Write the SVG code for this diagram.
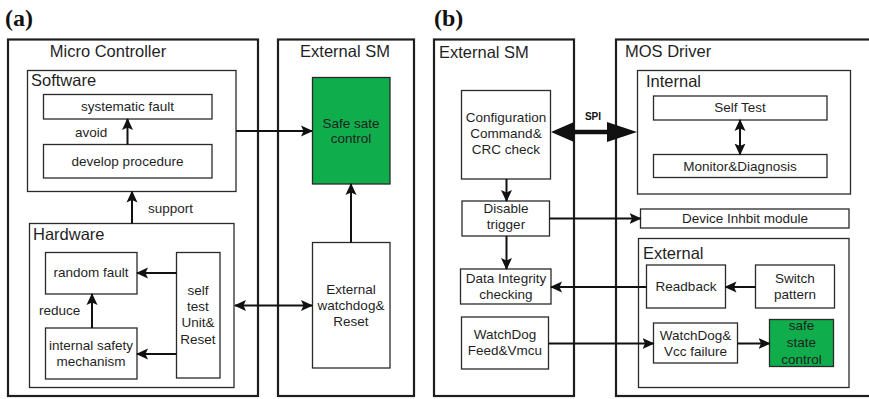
<svg xmlns="http://www.w3.org/2000/svg" width="869" height="399" viewBox="0 0 869 399">
  <defs>
    <style>
      .outer { fill: #fff; stroke: #1e1e1e; stroke-width: 2.2; }
      .box { fill: #fff; stroke: #2a2a2a; stroke-width: 1.3; }
      .green { fill: #10ad4c; stroke: #2a2a2a; stroke-width: 1.3; }
      .t { font-family: "Liberation Sans", Arial, sans-serif; font-size: 13.5px; fill: #1f1f1f; text-anchor: middle; }
      .tl { font-family: "Liberation Sans", Arial, sans-serif; font-size: 13.5px; fill: #1f1f1f; }
      .h { font-family: "Liberation Sans", Arial, sans-serif; font-size: 16.5px; fill: #1f1f1f; }
      .hc { font-family: "Liberation Sans", Arial, sans-serif; font-size: 16.5px; fill: #1f1f1f; text-anchor: middle; }
      .panel { font-family: "Liberation Serif", "Times New Roman", serif; font-size: 24px; font-weight: bold; fill: #111; }
      .spi { font-family: "Liberation Sans", Arial, sans-serif; font-size: 10px; font-weight: bold; fill: #111; text-anchor: middle; }
      .wire { fill: none; stroke: #111; stroke-width: 2; }
      .wire-end { marker-end: url(#head); }
      .wire-both { marker-start: url(#head); marker-end: url(#head); }
    </style>
    <marker id="head" viewBox="0 0 12 12" markerUnits="userSpaceOnUse" markerWidth="12" markerHeight="12" refX="11" refY="6" orient="auto-start-reverse">
      <path d="M0,0.5 L12,6 L0,11.5 L2.5,6 z" fill="#111"/>
    </marker>
  </defs>

  <rect width="869" height="399" fill="#fff"/>

  <!-- panel (a) -->
  <text class="panel" x="5" y="26">(a)</text>

  <g id="micro-controller">
    <rect class="outer" x="8" y="39.5" width="250" height="356.5"/>
    <text class="hc" x="108" y="57">Micro Controller</text>
  </g>

  <g id="external-sm-a">
    <rect class="outer" x="278" y="39.5" width="136" height="356.5"/>
    <text class="hc" x="345" y="57">External SM</text>
  </g>

  <g id="software">
    <rect class="box" x="27.5" y="70.5" width="208.5" height="121"/>
    <text class="h" x="31" y="86">Software</text>
  </g>

  <g id="systematic-fault">
    <rect class="box" x="43.5" y="94.5" width="168.5" height="24.5"/>
    <text class="t" x="127.5" y="111">systematic fault</text>
  </g>

  <g id="develop-procedure">
    <rect class="box" x="43.5" y="144.5" width="168.5" height="33.5"/>
    <text class="t" x="127.5" y="166">develop procedure</text>
  </g>

  <g id="safe-sate-control">
    <rect class="green" x="312.5" y="77.5" width="77.5" height="106.5"/>
    <text class="t" x="351" y="127.5">Safe sate</text>
    <text class="t" x="351" y="143">control</text>
  </g>

  <g id="hardware">
    <rect class="box" x="29.5" y="223.5" width="204.5" height="164"/>
    <text class="h" x="33" y="240">Hardware</text>
  </g>

  <g id="random-fault">
    <rect class="box" x="45.5" y="252.5" width="91.5" height="41.5"/>
    <text class="t" x="91" y="277">random fault</text>
  </g>

  <g id="internal-safety-mechanism">
    <rect class="box" x="45.5" y="328" width="91.5" height="51"/>
    <text class="t" x="91" y="350">internal safety</text>
    <text class="t" x="91" y="366">mechanism</text>
  </g>

  <g id="self-test-unit">
    <rect class="box" x="176.5" y="252.5" width="43.5" height="125.5"/>
    <text class="t" x="198" y="294.5">self</text>
    <text class="t" x="198" y="311">test</text>
    <text class="t" x="198" y="327">Unit&amp;</text>
    <text class="t" x="198" y="343.5">Reset</text>
  </g>

  <g id="external-watchdog">
    <rect class="box" x="312.5" y="242.5" width="77.5" height="125.5"/>
    <text class="t" x="351" y="293.5">External</text>
    <text class="t" x="351" y="309.5">watchdog&amp;</text>
    <text class="t" x="351" y="325.5">Reset</text>
  </g>

  <!-- panel (b) -->
  <text class="panel" x="434" y="26">(b)</text>

  <g id="external-sm-b">
    <rect class="outer" x="434" y="39.5" width="140" height="356.5"/>
    <text class="h" x="439" y="57.5">External SM</text>
  </g>

  <g id="mos-driver">
    <rect class="outer" x="616" y="39.5" width="262" height="356.5"/>
    <text class="h" x="625" y="57">MOS Driver</text>
  </g>

  <g id="internal">
    <rect class="box" x="637.5" y="70.5" width="213" height="123.5"/>
    <text class="h" x="646" y="87">Internal</text>
  </g>

  <g id="self-test">
    <rect class="box" x="653.5" y="96" width="173.5" height="24"/>
    <text class="t" x="740" y="111.5">Self Test</text>
  </g>

  <g id="monitor-diagnosis">
    <rect class="box" x="653.5" y="154.5" width="173.5" height="23"/>
    <text class="t" x="740" y="170.5">Monitor&amp;Diagnosis</text>
  </g>

  <g id="configuration">
    <rect class="box" x="461.5" y="90.5" width="89" height="88.5"/>
    <text class="t" x="506" y="121.5">Configuration</text>
    <text class="t" x="506" y="137.5">Command&amp;</text>
    <text class="t" x="506" y="153.5">CRC check</text>
  </g>

  <g id="disable-trigger">
    <rect class="box" x="462" y="201" width="87.5" height="35"/>
    <text class="t" x="506" y="212.5">Disable</text>
    <text class="t" x="506" y="229">trigger</text>
  </g>

  <g id="device-inhibit">
    <rect class="box" x="640.5" y="209" width="208.5" height="19"/>
    <text class="t" x="745" y="223">Device Inhbit module</text>
  </g>

  <g id="data-integrity">
    <rect class="box" x="460.5" y="269" width="90.5" height="35"/>
    <text class="t" x="506" y="282.5">Data Integrity</text>
    <text class="t" x="506" y="299">checking</text>
  </g>

  <g id="watchdog-feed">
    <rect class="box" x="461.5" y="317" width="87" height="52"/>
    <text class="t" x="505" y="339">WatchDog</text>
    <text class="t" x="505" y="355">Feed&amp;Vmcu</text>
  </g>

  <g id="external">
    <rect class="box" x="638.5" y="238.5" width="210.5" height="149"/>
    <text class="h" x="643" y="259">External</text>
  </g>

  <g id="readback">
    <rect class="box" x="646.5" y="265" width="79" height="43"/>
    <text class="t" x="686" y="291">Readback</text>
  </g>

  <g id="switch-pattern">
    <rect class="box" x="755.5" y="265" width="79" height="43"/>
    <text class="t" x="795" y="283">Switch</text>
    <text class="t" x="795" y="299">pattern</text>
  </g>

  <g id="watchdog-vcc">
    <rect class="box" x="653.5" y="323" width="84" height="40"/>
    <text class="t" x="695.5" y="339.5">WatchDog&amp;</text>
    <text class="t" x="695.5" y="355.5">Vcc failure</text>
  </g>

  <g id="safe-state-control">
    <rect class="green" x="769.5" y="319.5" width="64" height="47"/>
    <text class="t" x="801.5" y="330">safe</text>
    <text class="t" x="801.5" y="346.5">state</text>
    <text class="t" x="801.5" y="363.5">control</text>
  </g>

  <g id="connectors">
    <!-- (a) -->
    <line class="wire wire-end" x1="127.5" y1="144.5" x2="127.5" y2="119"/>
    <text class="tl" x="75" y="137">avoid</text>
    <line class="wire wire-end" x1="236" y1="131" x2="312" y2="131"/>
    <line class="wire wire-end" x1="132" y1="223.5" x2="132" y2="191.5"/>
    <text class="tl" x="148" y="213">support</text>
    <line class="wire wire-end" x1="176.5" y1="273" x2="137" y2="273"/>
    <line class="wire wire-end" x1="176.5" y1="354" x2="137" y2="354"/>
    <line class="wire wire-end" x1="92" y1="328" x2="92" y2="294"/>
    <text class="tl" x="39" y="315">reduce</text>
    <line class="wire wire-both" x1="235" y1="305.5" x2="312" y2="305.5"/>
    <line class="wire wire-end" x1="351" y1="242.5" x2="351" y2="184"/>

    <!-- (b) -->
    <line x1="570" y1="132" x2="611" y2="132" stroke="#111" stroke-width="4.5"/>
    <polygon points="551,132 574,122 574,142" fill="#111"/>
    <polygon points="637,132 607,122 607,142" fill="#111"/>
    <text class="spi" x="593" y="120">SPI</text>
    <line class="wire wire-both" x1="740" y1="120" x2="740" y2="154.5"/>
    <line class="wire wire-end" x1="506.5" y1="179" x2="506.5" y2="201"/>
    <line class="wire wire-end" x1="549.5" y1="218.5" x2="640.5" y2="218.5"/>
    <line class="wire wire-end" x1="506.5" y1="236" x2="506.5" y2="269"/>
    <line class="wire wire-end" x1="646.5" y1="287" x2="551" y2="287"/>
    <line class="wire wire-end" x1="755.5" y1="287" x2="725.5" y2="287"/>
    <line class="wire wire-end" x1="548.5" y1="343.5" x2="653.5" y2="343.5"/>
    <line class="wire wire-end" x1="737.5" y1="343.5" x2="769.5" y2="343.5"/>
  </g>
</svg>
